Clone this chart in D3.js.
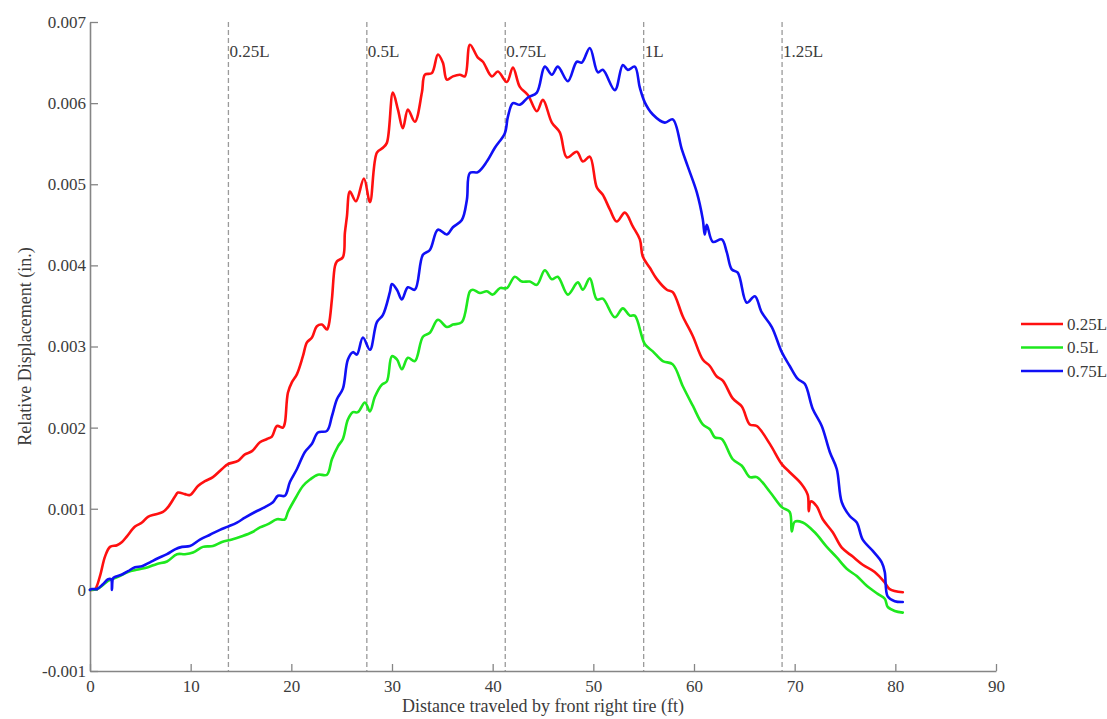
<!DOCTYPE html>
<html>
<head>
<meta charset="utf-8">
<script src="https://cdn.jsdelivr.net/npm/d3@7"></script>
<style>
  body { margin: 0; background: #ffffff; }
  svg { display: block; }
  text { font-family: "Liberation Serif", "Times New Roman", serif; fill: #3c3c3c; }
</style>
</head>
<body>
<svg id="chart" width="1107" height="719"></svg>
<script>
// Relative displacement vs. distance travelled by the front right tire
const seriesNames = ["0.25L", "0.5L", "0.75L"];
const seriesColors = ["#ff1010", "#1ee81e", "#1010f5"];

// Distance (ft) and displacement (in.) for the sensor at 0.25L
const distA = [0, 0.5, 0.99, 1.49, 1.99, 2.68, 3.18, 3.67, 4.47, 5.16, 5.76, 6.45, 7.25, 7.75, 8.44, 8.74, 9.43, 9.93, 10.72, 11.42, 12.21, 13.11, 13.70, 14.70, 15.39, 16.09, 16.88, 17.58, 18.07, 18.57, 19.17, 19.36, 19.66, 20.06, 20.56, 21.15, 21.55, 22.05, 22.54, 23.04, 23.54, 23.73, 24.03, 24.33, 24.53, 25.12, 25.32, 25.52, 25.82, 26.42, 27.21, 27.81, 28.50, 29.10, 29.49, 30.09, 30.59, 31.08, 31.58, 32.27, 32.97, 33.27, 33.96, 34.56, 35.05, 35.45, 36.05, 36.74, 37.24, 37.74, 38.53, 39.03, 39.92, 40.52, 41.41, 42.01, 42.70, 43.50, 44.39, 44.99, 45.88, 46.67, 47.37, 48.36, 48.96, 49.65, 50.35, 50.94, 51.64, 52.33, 53.13, 53.92, 54.62, 54.91, 55.61, 56.31, 57.30, 57.89, 58.89, 59.88, 60.87, 61.57, 62.26, 62.86, 63.85, 64.75, 65.54, 66.24, 67.53, 68.72, 69.51, 70.71, 71.30, 71.40, 71.60, 72.19, 72.79, 73.78, 74.68, 75.77, 76.76, 77.95, 78.95, 79.44, 80.74];
const dispA = [0, 0.00001, 0.00017, 0.00041, 0.00053, 0.00055, 0.00059, 0.00066, 0.00078, 0.00083, 0.00090, 0.00093, 0.00096, 0.00102, 0.00115, 0.00120, 0.00118, 0.00117, 0.00128, 0.00134, 0.00139, 0.00149, 0.00155, 0.00159, 0.00167, 0.00171, 0.00182, 0.00186, 0.00189, 0.00202, 0.00200, 0.00206, 0.00243, 0.00256, 0.00266, 0.00288, 0.00305, 0.00311, 0.00325, 0.00327, 0.00321, 0.00327, 0.00358, 0.00399, 0.00405, 0.00410, 0.00440, 0.00460, 0.00491, 0.00479, 0.00507, 0.00478, 0.00539, 0.00545, 0.00551, 0.00613, 0.00592, 0.00569, 0.00592, 0.00577, 0.00613, 0.00635, 0.00637, 0.00660, 0.00650, 0.00629, 0.00633, 0.00635, 0.00633, 0.00672, 0.00656, 0.00651, 0.00633, 0.00639, 0.00626, 0.00644, 0.00620, 0.00610, 0.00590, 0.00604, 0.00576, 0.00564, 0.00533, 0.00540, 0.00528, 0.00534, 0.00496, 0.00487, 0.00469, 0.00454, 0.00465, 0.00448, 0.00432, 0.00411, 0.00397, 0.00383, 0.00370, 0.00367, 0.00337, 0.00313, 0.00284, 0.00276, 0.00263, 0.00258, 0.00236, 0.00226, 0.00204, 0.00202, 0.00180, 0.00155, 0.00145, 0.00130, 0.00117, 0.00097, 0.00109, 0.00103, 0.00087, 0.00071, 0.00052, 0.00041, 0.00031, 0.00022, 0.00009, 0.00001, -0.00003];

// Sensor at 0.5L
const distB = [0, 0.70, 1.29, 1.79, 2.78, 3.77, 4.77, 5.76, 6.65, 7.65, 8.64, 9.43, 10.23, 11.22, 12.21, 13.11, 14.10, 15.09, 16.09, 16.88, 17.68, 18.57, 19.36, 19.66, 20.36, 21.15, 21.85, 22.64, 23.54, 24.03, 24.63, 25.12, 25.62, 26.12, 26.61, 27.31, 27.81, 28.30, 29.00, 29.49, 29.99, 30.49, 30.98, 31.58, 32.27, 33.07, 33.76, 34.56, 35.45, 36.05, 36.94, 37.74, 38.03, 38.73, 39.42, 40.02, 40.72, 41.41, 42.20, 42.90, 43.69, 44.39, 45.18, 45.88, 46.47, 47.47, 48.46, 48.96, 49.65, 50.35, 50.94, 52.14, 52.93, 53.62, 54.12, 55.11, 55.91, 56.90, 57.89, 58.89, 59.88, 60.87, 61.57, 62.07, 62.76, 63.85, 64.75, 65.54, 66.24, 67.53, 68.72, 69.51, 69.71, 70.01, 70.80, 71.99, 73.19, 74.18, 75.17, 76.17, 77.16, 78.25, 78.95, 79.24, 79.94, 80.74];
const dispB = [0, 0.00001, 0.00006, 0.00011, 0.00016, 0.00022, 0.00025, 0.00028, 0.00032, 0.00035, 0.00044, 0.00044, 0.00046, 0.00053, 0.00054, 0.00059, 0.00062, 0.00066, 0.00071, 0.00077, 0.00081, 0.00087, 0.00087, 0.00096, 0.00112, 0.00128, 0.00136, 0.00142, 0.00142, 0.00161, 0.00177, 0.00186, 0.00210, 0.00219, 0.00219, 0.00231, 0.00220, 0.00238, 0.00253, 0.00257, 0.00288, 0.00284, 0.00272, 0.00286, 0.00282, 0.00312, 0.00317, 0.00333, 0.00324, 0.00327, 0.00330, 0.00368, 0.00370, 0.00366, 0.00368, 0.00364, 0.00372, 0.00372, 0.00386, 0.00380, 0.00380, 0.00376, 0.00394, 0.00383, 0.00386, 0.00364, 0.00379, 0.00370, 0.00384, 0.00358, 0.00359, 0.00336, 0.00347, 0.00338, 0.00338, 0.00303, 0.00294, 0.00282, 0.00278, 0.00251, 0.00227, 0.00204, 0.00198, 0.00188, 0.00186, 0.00161, 0.00153, 0.00139, 0.00139, 0.00121, 0.00102, 0.00096, 0.00072, 0.00084, 0.00083, 0.00071, 0.00053, 0.00040, 0.00026, 0.00017, 0.00005, -0.00005, -0.00011, -0.00021, -0.00026, -0.00028];

// Sensor at 0.75L
const distC = [0, 0.20, 0.70, 1.29, 1.79, 2.09, 2.18, 2.28, 2.48, 3.18, 3.77, 4.47, 5.16, 5.96, 6.75, 7.65, 8.44, 9.14, 9.93, 10.92, 11.92, 12.91, 13.70, 14.60, 15.39, 16.39, 17.38, 18.17, 18.67, 19.36, 19.86, 20.56, 21.35, 22.05, 22.64, 23.54, 24.03, 24.53, 25.12, 25.62, 26.12, 26.51, 27.11, 27.81, 28.50, 29.10, 29.79, 29.99, 30.49, 30.98, 31.58, 32.27, 33.07, 33.76, 34.56, 35.45, 36.05, 36.94, 37.44, 37.74, 38.53, 39.42, 40.22, 41.21, 41.51, 42.01, 42.70, 43.50, 44.39, 45.18, 45.88, 46.47, 47.47, 48.36, 48.86, 49.65, 50.45, 50.94, 52.14, 52.93, 53.43, 54.12, 54.62, 55.11, 55.91, 57.10, 57.89, 58.79, 59.38, 60.28, 60.87, 61.07, 61.27, 61.87, 62.76, 63.26, 63.75, 64.35, 65.24, 66.04, 66.73, 67.73, 68.72, 69.51, 70.31, 71.00, 71.80, 72.69, 73.49, 74.18, 74.68, 75.47, 76.17, 76.76, 77.76, 78.65, 78.95, 79.24, 79.94, 80.74];
const dispC = [0, 0.00001, 0.00001, 0.00007, 0.00013, 0.00013, 0.00000, 0.00014, 0.00016, 0.00019, 0.00023, 0.00028, 0.00029, 0.00034, 0.00039, 0.00044, 0.00050, 0.00053, 0.00054, 0.00062, 0.00068, 0.00074, 0.00078, 0.00083, 0.00089, 0.00096, 0.00102, 0.00108, 0.00116, 0.00116, 0.00133, 0.00149, 0.00170, 0.00180, 0.00194, 0.00196, 0.00214, 0.00235, 0.00248, 0.00284, 0.00293, 0.00290, 0.00311, 0.00296, 0.00330, 0.00339, 0.00367, 0.00377, 0.00370, 0.00358, 0.00373, 0.00370, 0.00413, 0.00419, 0.00444, 0.00438, 0.00447, 0.00456, 0.00481, 0.00514, 0.00515, 0.00528, 0.00545, 0.00563, 0.00583, 0.00600, 0.00598, 0.00607, 0.00613, 0.00645, 0.00635, 0.00645, 0.00627, 0.00651, 0.00650, 0.00668, 0.00638, 0.00641, 0.00616, 0.00647, 0.00641, 0.00645, 0.00619, 0.00601, 0.00586, 0.00576, 0.00580, 0.00543, 0.00522, 0.00490, 0.00457, 0.00438, 0.00450, 0.00429, 0.00432, 0.00416, 0.00395, 0.00391, 0.00354, 0.00362, 0.00342, 0.00324, 0.00293, 0.00276, 0.00260, 0.00254, 0.00223, 0.00202, 0.00170, 0.00149, 0.00108, 0.00091, 0.00083, 0.00062, 0.00048, 0.00034, 0.00022, -0.00008, -0.00014, -0.00015];

// Reference positions along the span (L = 55 ft)
const markerNames = ["0.25L", "0.5L", "0.75L", "1L", "1.25L"];
const markerDist = [13.75, 27.5, 41.25, 55, 68.75];

const xTicks = [0, 10, 20, 30, 40, 50, 60, 70, 80, 90];
const yTicks = [-0.001, 0, 0.001, 0.002, 0.003, 0.004, 0.005, 0.006, 0.007];

const xTitle = "Distance traveled by front right tire (ft)";
const yTitle = "Relative Displacement (in.)";

const series = [
  { name: seriesNames[0], color: seriesColors[0], x: distA, y: dispA },
  { name: seriesNames[1], color: seriesColors[1], x: distB, y: dispB },
  { name: seriesNames[2], color: seriesColors[2], x: distC, y: dispC }
];

const svg = d3.select("#chart");
const plotLeft = 90, plotRight = 996, plotTop = 22, plotBottom = 671;
const axisColor = "#858585";

const x = d3.scaleLinear().domain([0, 90]).range([plotLeft, plotRight]);
const y = d3.scaleLinear().domain([-0.001, 0.007]).range([plotBottom, plotTop]);

// Vertical dashed reference lines with labels
const markers = svg.append("g");
markerDist.forEach((d, i) => {
  markers.append("line")
    .attr("x1", x(d)).attr("x2", x(d))
    .attr("y1", plotTop).attr("y2", plotBottom)
    .attr("stroke", "#9a9a9a")
    .attr("stroke-width", 1.3)
    .attr("stroke-dasharray", "5,3");
  markers.append("text")
    .attr("x", x(d) + 1)
    .attr("y", 57)
    .attr("font-size", 17)
    .text(markerNames[i]);
});

// Axes
const fmtY = d => (Math.abs(d) < 1e-12 ? "0" : d.toFixed(3));

const gx = svg.append("g")
  .attr("transform", `translate(0,${plotBottom})`)
  .call(d3.axisBottom(x).tickValues(xTicks).tickSizeInner(-7).tickSizeOuter(0).tickPadding(9).tickFormat(d3.format("d")));

const gy = svg.append("g")
  .attr("transform", `translate(${plotLeft},0)`)
  .call(d3.axisLeft(y).tickValues(yTicks).tickSizeInner(-8).tickSizeOuter(0).tickPadding(4).tickFormat(fmtY));

[gx, gy].forEach(g => {
  g.select(".domain").attr("stroke", axisColor).attr("stroke-width", 1.6);
  g.selectAll(".tick line").attr("stroke", axisColor).attr("stroke-width", 1.3);
  g.selectAll(".tick text")
    .attr("font-family", "'Liberation Serif', 'Times New Roman', serif")
    .attr("font-size", 17)
    .attr("fill", "#3c3c3c");
});

// Axis titles
svg.append("text")
  .attr("x", (plotLeft + plotRight) / 2)
  .attr("y", 712)
  .attr("text-anchor", "middle")
  .attr("font-size", 18)
  .text(xTitle);

svg.append("text")
  .attr("transform", `translate(31,${(plotTop + plotBottom) / 2}) rotate(-90)`)
  .attr("text-anchor", "middle")
  .attr("font-size", 18)
  .text(yTitle);

// Data lines
const line = d3.line()
  .x(d => x(d[0]))
  .y(d => y(d[1]))
  .curve(d3.curveCatmullRom.alpha(0.5));

svg.append("g")
  .selectAll("path")
  .data(series)
  .join("path")
  .attr("d", s => line(d3.zip(s.x, s.y)))
  .attr("fill", "none")
  .attr("stroke", s => s.color)
  .attr("stroke-width", 2.6)
  .attr("stroke-linejoin", "round")
  .attr("stroke-linecap", "round");

// Legend
const legend = svg.append("g");
series.forEach((s, i) => {
  const ly = 324 + i * 23.5;
  legend.append("line")
    .attr("x1", 1021).attr("x2", 1063)
    .attr("y1", ly).attr("y2", ly)
    .attr("stroke", s.color)
    .attr("stroke-width", 2.6);
  legend.append("text")
    .attr("x", 1067)
    .attr("y", ly + 5.5)
    .attr("font-size", 17)
    .text(s.name);
});
</script>
</body>
</html>
